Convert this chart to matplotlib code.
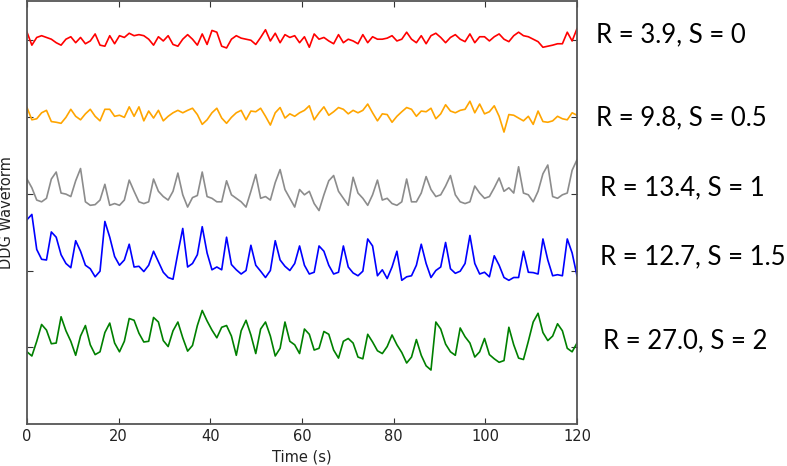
import numpy as np
import matplotlib
matplotlib.use("Agg")
import matplotlib.pyplot as plt

red_wave = [23, -14, 8, 13, 8, 3, -7, -14, 3, 10, -7, 8, -10, -2, 18, -14, -17, 13, -10, 13,
            8, 20, 13, 16, 13, 3, -14, 10, -2, 13, -12, -17, 3, 16, 3, -14, 18, -12, 28, 23,
            -17, -22, 3, 13, 6, 3, 0, -12, 8, 30, -2, 20, -7, 16, 8, 13, -7, 10, -20, 18,
            3, 8, -2, -10, 16, -7, 3, -2, -10, 16, -7, 10, 3, 3, 6, 13, -2, 3, 23, 3,
            -7, 13, -10, 13, 20, 8, -7, 8, 16, 3, -4, 18, -7, 10, 10, -2, 10, 18, 3, -4,
            13, 23, 13, 10, 3, -4, -20, -17, -14, -10, -10, 23, -2, 33]
orange_wave = [27, -8, -5, 12, 19, -13, -15, -18, -1, 22, 2, -8, 9, 22, 2, -11, 22, 22, 2, 5,
               -1, 29, 2, 29, -11, 17, -3, 19, -11, 2, 12, 19, 12, 19, 25, 7, -21, -8, 12, 25,
               -3, -18, -1, 12, 19, -8, 17, 15, 25, 2, -23, 12, 27, -3, 9, 2, 12, 19, 32, -8,
               12, 29, 5, 15, 27, 22, 9, 19, 12, 19, 37, 12, -11, 9, 7, -15, 2, 15, 27, 22,
               2, 17, 15, 25, -5, 9, 35, 17, 12, 19, 22, 45, 12, 37, 9, 15, 32, 2, -43, 7,
               5, -3, -11, 2, -21, 17, -13, -15, -11, 2, -5, -8, 12, 5]
gray_wave = [42, 17, -18, -23, -13, 42, 62, 2, -1, -8, 37, 72, -23, -33, -31, -18, 27, -33, -28, -33,
             -18, 39, 7, -23, -28, -23, 42, 7, -8, -18, 7, 59, -3, -38, -11, -5, 62, -8, -13, -23,
             -23, 37, -3, -13, -23, -38, 7, 55, -13, -8, -18, 32, 69, 12, -13, -38, 12, -3, 7, -28,
             -48, -3, 37, 52, 7, -13, -33, 47, 2, -13, -33, -3, 39, -18, -13, -28, -33, -23, 42, -23,
             -23, 2, 49, 12, -8, -3, 22, 52, -3, -23, -28, -23, 22, 2, -13, -8, 17, 45, 7, 17,
             2, 77, 2, -3, -23, 7, 57, 82, -8, -13, -3, 2, 67, 97]
blue_wave = [145, 160, 60, 32, 30, 110, 95, 45, 20, 8, 85, 55, 15, 5, -18, -2, 140, 95, 40, 15,
             30, 75, 10, 12, -3, 15, 55, 25, -5, -20, -25, 50, 120, 10, 20, 45, 125, 50, 2, 10,
             2, 95, 17, 2, -10, 0, 72, 15, -2, -20, 0, 85, 30, 12, 0, 20, 70, 15, -10, -5,
             70, 55, 15, -10, -5, 70, 10, -7, -15, -2, 90, 70, -15, 2, -23, 10, 55, -28, -18, -15,
             15, 75, 20, -20, 0, 10, 80, 5, -8, -2, 20, 100, 20, -10, -5, -18, 42, 15, -20, -28,
             -20, -20, 55, -5, -6, -10, 90, 30, -15, -12, -15, 90, 50, -15]
green_wave = [-13, -25, 17, 65, 49, 10, 12, 87, 47, 17, -23, 32, 62, 7, -21, -13, 42, 69, 12, -13,
              17, 82, 77, 40, 15, 17, 85, 72, 19, 2, 47, 72, 27, -11, 5, 62, 105, 75, 49, 27,
              57, 62, 32, -23, 47, 77, 35, -18, 52, 72, 32, -25, -3, 72, 17, 7, -18, 52, 37, -8,
              -3, 45, 37, -8, -31, 17, 25, 12, -28, -33, 37, 15, -10, -18, 2, 35, 7, -15, -45, -28,
              22, -23, -53, -65, 72, 52, 9, -13, -23, 55, 30, 12, -28, -13, 25, -21, -33, -43, -38, 57,
              7, -31, -35, 17, 72, 97, 42, 19, 32, 67, 47, -3, -13, 12]

series = [red_wave, orange_wave, gray_wave, blue_wave, green_wave]
colors = ["#ff0000", "#ffa500", "#8c8c8c", "#0000ff", "#008000"]
labels = ["R = 3.9, S = 0", "R = 9.8, S = 0.5", "R = 13.4, S = 1",
          "R = 12.7, S = 1.5", "R = 27.0, S = 2"]
duration = 120
xticks = [0, 20, 40, 60, 80, 100, 120]

spacing = 219
fig = plt.figure(figsize=(7.87, 4.66), dpi=100)
ax = fig.add_axes([27 / 787, 42 / 466, 550 / 787, 423 / 466])

offsets = []
for k, (vals, c) in enumerate(zip(series, colors)):
    off = (len(series) - 1 - k) * spacing
    offsets.append(off)
    t = np.linspace(0, duration, len(vals))
    ax.plot(t, np.asarray(vals) + off, color=c, lw=1.2)

ax.set_xlim(0, duration)
ax.set_ylim(-spacing, 4 * spacing + 112)
ax.set_xticks(xticks)
ax.set_yticks(offsets)
ax.set_yticklabels([])
ax.tick_params(direction="in", top=True, right=True, length=4, width=0.8,
               colors="#333333", labelsize=10.5, labelcolor="#222222")
for s in ax.spines.values():
    s.set_color("#555555")
    s.set_linewidth(1.3)
ax.set_xlabel("Time (s)", fontsize=10.5, color="#222222", labelpad=4)
ax.set_ylabel("DDG Waveform", fontsize=10.5, color="#222222", labelpad=6)

label_pos = [(596, 35), (596, 118), (600, 188), (600, 257), (603, 341)]
for (px, py), lab in zip(label_pos, labels):
    fig.text(px / 787, 1 - py / 466, lab, fontsize=18.5, family="Lato",
             ha="left", va="center", color="black")

fig.savefig("out.png", dpi=100)
